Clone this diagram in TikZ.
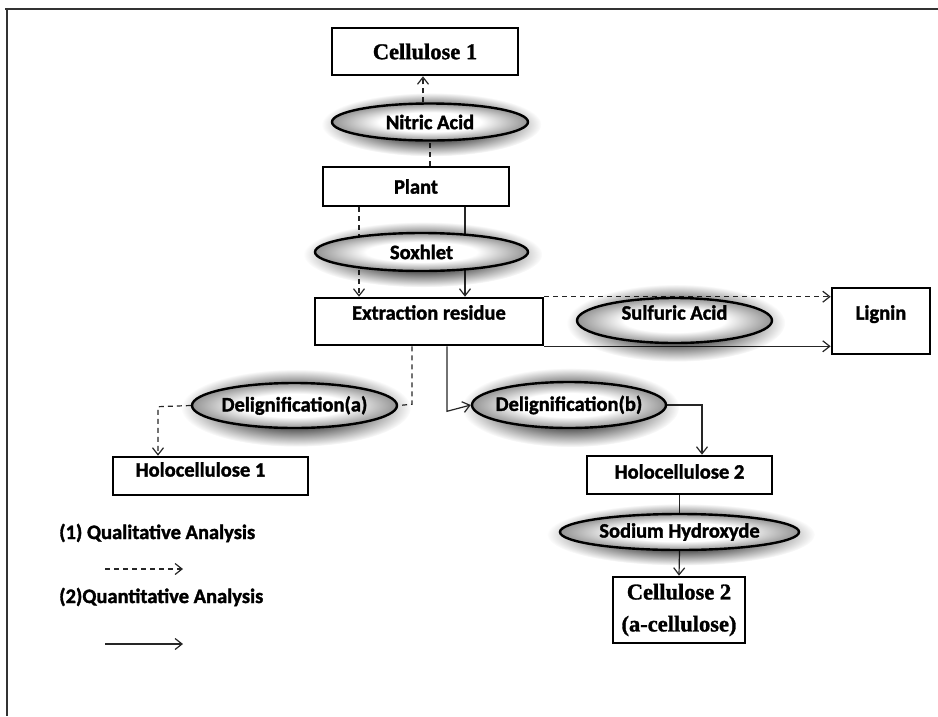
\documentclass[tikz,border=0pt]{standalone}
\usepackage{fontspec}
\setmainfont{Carlito}[BoldFeatures={FakeBold=1.6}]
\newfontfamily\serifbf{Liberation Serif}[BoldFeatures={FakeBold=1.3}]
\usetikzlibrary{shapes.geometric,arrows.meta,fadings,calc}
\pgfdeclarelayer{background}
\pgfdeclarelayer{glowlayer}
\pgfsetlayers{background,glowlayer,main}
\pgfdeclareradialshading{ellshade}{\pgfpointorigin}{color(0bp)=(white); color(13bp)=(white); color(25bp)=(black!42); color(50bp)=(black!42)}
\pgfdeclareradialshading{glowsh}{\pgfpointorigin}{color(0bp)=(white); color(14bp)=(white); color(25bp)=(black); color(50bp)=(black)}
\pgfdeclarefading{glowfade}{\pgfuseshading{glowsh}}
\newcommand\glowell[3]{%
  \begin{pgfonlayer}{glowlayer}
  \fill[black, opacity=0.6, path fading=glowfade] ($(#1.center)+(1.5,2.5)$) ellipse [x radius=#2*0.56pt, y radius=#3*0.86pt];
  \end{pgfonlayer}}
\begin{document}
\begin{tikzpicture}[x=1pt,y=-1pt,
  sanslab/.style={font=\fontsize{20.5}{24}\selectfont\bfseries},
  seriflab/.style={font=\serifbf\fontsize{22.5}{32}\selectfont\bfseries},
  box/.style={rectangle, draw=black, line width=2.6pt, fill=white, inner sep=0pt, sanslab},
  ell/.style={ellipse, draw=black, line width=2.4pt, shade, shading=ellshade, inner xsep=-8pt, inner ysep=-3pt, sanslab},
  conn/.style={draw=black!85, line width=1.2pt},
  tip/.style={-{Straight Barb[length=7pt,width=11pt]}},
  qualline/.style={conn, dash pattern=on 5pt off 4pt},
  qual/.style={qualline, tip},
  quan/.style={conn, tip},
  frame/.style={draw=black!80, line width=1.3pt},
  leg/.style={sanslab, anchor=west, inner sep=0pt}
]
\useasboundingbox (0,0) rectangle (938,716);
\draw[frame] (5,9) -- (938,9);
\draw[frame] (7,9) -- (7,716);

\node[box, seriflab, minimum width=186pt, minimum height=47pt] (cel1) at (425,51.5) {Cellulose 1};
\node[ell, minimum width=196pt, minimum height=37pt] (nitric) at (430,122) {Nitric Acid};
\glowell{nitric}{196}{37}
\node[box, minimum width=186pt, minimum height=39pt] (plant) at (416,186.5) {Plant};
\node[ell, minimum width=213pt, minimum height=38pt] (soxhlet) at (421.5,252) {Soxhlet};
\glowell{soxhlet}{213}{38}
\node[box, minimum width=228pt, minimum height=47pt, text height=14pt, text depth=17.8pt] (extr) at (429,321.5) {Extraction residue};
\node[ell, minimum width=195pt, minimum height=45pt, text height=14pt, text depth=15.8pt] (sulf) at (674.5,320.5) {Sulfuric Acid};
\glowell{sulf}{195}{45}
\node[box, minimum width=98pt, minimum height=66pt, text height=14pt, text depth=16.8pt] (lignin) at (881,321) {Lignin};
\node[ell, minimum width=205pt, minimum height=45pt] (dela) at (294.5,405.5) {Delignification(a)};
\glowell{dela}{205}{45}
\node[ell, minimum width=194pt, minimum height=46pt] (delb) at (569,405) {Delignification(b)};
\glowell{delb}{194}{46}
\node[box, minimum width=195pt, minimum height=38pt, text height=14pt, text depth=12.8pt] (holo1) at (210.5,476) {Holocellulose 1\hspace*{20pt}};
\node[box, minimum width=185pt, minimum height=38pt, text height=14pt, text depth=6.8pt] (holo2) at (679.5,475) {Holocellulose 2};
\node[ell, minimum width=239pt, minimum height=36pt] (naoh) at (679.5,532) {Sodium Hydroxyde};
\glowell{naoh}{239}{36}
\node[box, seriflab, align=center, minimum width=132pt, minimum height=66pt] (cel2) at (679,610) {Cellulose 2\\(a-cellulose)};

\node[leg] (leg1) at (59,533) {(1) Qualitative Analysis};
\node[leg] (leg2) at (59,597) {(2)Quantitative Analysis};
\coordinate (l1a) at (105,569);
\coordinate (l1b) at (183,569);
\coordinate (l2a) at (105,644);
\coordinate (l2b) at (183,644);
\coordinate (hb) at ($(holo2.north)+(22.5,0)$);

\begin{pgfonlayer}{background}
\draw[qual] ([xshift=-7pt]nitric.north) -- ([xshift=-2pt]cel1.south);
\draw[qualline] ([xshift=14pt]plant.north) -- (nitric.south);
\draw[qual] ([xshift=-57pt]plant.south) -- ([xshift=-70pt]extr.north);
\draw[quan] ([xshift=49pt]plant.south) -- ([xshift=36pt]extr.north);
\draw[qual] (extr.north east) -- (extr.north east -| lignin.west);
\draw[quan] (extr.south east) -- (extr.south east -| lignin.west);
\draw[qualline] ([xshift=-17pt]extr.south) -- ++(0,58) -- (dela.east);
\draw[qual] (dela.west) -- ([xshift=-52.5pt,yshift=49pt]holo1.north) -- ([xshift=-52.5pt]holo1.north);
\draw[quan] ([xshift=18pt]extr.south) -- ++(0,65) -- (delb.west);
\draw[quan] (delb.east) -- (delb.east -| hb) -- (hb);
\draw[conn] (holo2.south) -- (naoh.north);
\draw[quan] (naoh.south) -- (cel2.north);
\end{pgfonlayer}

\draw[qual] (l1a) -- (l1b);
\draw[quan] (l2a) -- (l2b);
\end{tikzpicture}
\end{document}
